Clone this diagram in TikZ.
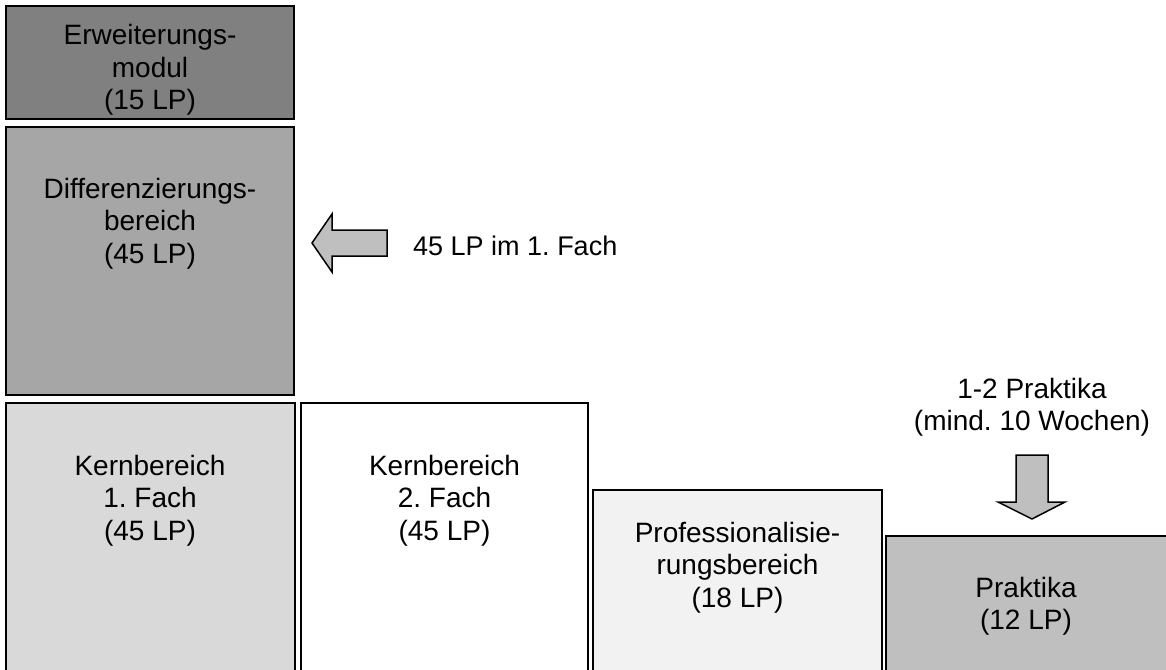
\documentclass[tikz,border=0pt]{standalone}
\usepackage{fontspec}
\setmainfont{Liberation Sans}
\frenchspacing
\definecolor{gErw}{HTML}{808080}
\definecolor{gDiff}{HTML}{A6A6A6}
\definecolor{gKernA}{HTML}{D9D9D9}
\definecolor{gProf}{HTML}{F2F2F2}
\definecolor{gPrak}{HTML}{BFBFBF}
\definecolor{gArr}{HTML}{BFBFBF}
\begin{document}
\begin{tikzpicture}[x=1pt,y=-1pt,
  box/.style={draw=black, line width=2pt, inner sep=0pt, outer sep=0pt, anchor=north west},
  lbl/.style={anchor=base, inner sep=0pt, font=\fontsize{28}{32.5}\selectfont},
  arr/.style={draw=black, line width=1.5pt, fill=gArr, line join=miter}]
\useasboundingbox (0,0) rectangle (1166,669);
\clip (0,0) rectangle (1166,669);
% boxes
\node[box, fill=gErw, minimum width=288pt, minimum height=113pt] (erw) at (6,6) {};
\node[box, fill=gDiff, minimum width=288pt, minimum height=268pt] (diff) at (6,127) {};
\node[box, fill=gKernA, minimum width=289pt, minimum height=300pt] (kern1) at (6,403) {};
\node[box, fill=white, minimum width=287pt, minimum height=300pt] (kern2) at (301,403) {};
\node[box, fill=gProf, minimum width=289pt, minimum height=220pt] (prof) at (593,490) {};
\node[box, fill=gPrak, minimum width=290pt, minimum height=180pt] (prak) at (886,536) {};
% texts
\node[lbl] (terw) at (150,45) {\begin{tabular}[t]{@{}c@{}}Erweiterungs-\\modul\\(15 LP)\end{tabular}};
\node[lbl] (tdiff) at (150,198) {\begin{tabular}[t]{@{}c@{}}Differenzierungs-\\bereich\\(45 LP)\end{tabular}};
\node[lbl] (tkern1) at (150,475) {\begin{tabular}[t]{@{}c@{}}Kernbereich\\1. Fach\\(45 LP)\end{tabular}};
\node[lbl] (tkern2) at (444.5,475) {\begin{tabular}[t]{@{}c@{}}Kernbereich\\2. Fach\\(45 LP)\end{tabular}};
\node[lbl] (tprof) at (737.5,542) {\begin{tabular}[t]{@{}c@{}}Professionalisie-\\rungsbereich\\(18 LP)\end{tabular}};
\node[lbl] (tprak) at (1026,597) {\begin{tabular}[t]{@{}c@{}}Praktika\\(12 LP)\end{tabular}};
\node[lbl, anchor=base west, font=\fontsize{27}{31}\selectfont] (tfach) at (413,255) {45 LP im 1. Fach};
\node[lbl] (tprakt) at (1032,398) {\begin{tabular}[t]{@{}c@{}}1-2 Praktika\\(mind. 10 Wochen)\end{tabular}};
% block arrows
\draw[arr] (387,230) -- (332,230) -- (332,214) -- (312,243) -- (332,272) -- (332,256) -- (387,256) -- cycle;
\draw[arr] (1016,455) -- (1048,455) -- (1048,502) -- (1065,502) -- (1032,519) -- (998,502) -- (1016,502) -- cycle;
\end{tikzpicture}
\end{document}
